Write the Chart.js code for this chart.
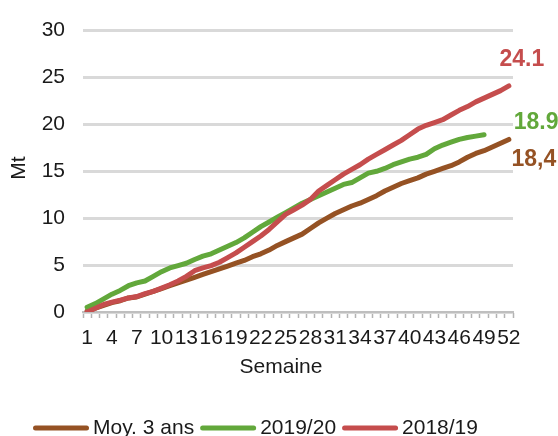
<!DOCTYPE html>
<html>
<head>
<meta charset="utf-8">
<script src="https://cdn.jsdelivr.net/npm/chart.js@4.4.1/dist/chart.umd.min.js"></script>
<style>
  html, body { margin: 0; padding: 0; background: #ffffff; }
  #wrap { width: 558px; height: 436px; }
</style>
</head>
<body>
<div id="wrap"><canvas id="c" width="558" height="436"></canvas></div>
<script>
// Weekly cumulative volumes (Mt)
const semaines = ['1','2','3','4','5','6','7','8','9','10','11','12','13','14','15','16','17','18','19','20',
  '21','22','23','24','25','26','27','28','29','30','31','32','33','34','35','36','37','38','39','40',
  '41','42','43','44','45','46','47','48','49','50','51','52'];
const semainesAffichees = ['1','4','7','10','13','16','19','22','25','28','31','34','37','40','43','46','49','52'];

const moy3ans = [0.1, 0.4, 0.7, 1.0, 1.2, 1.5, 1.6, 1.9, 2.2, 2.5, 2.8, 3.1, 3.4, 3.7, 4.0, 4.3, 4.6, 4.9, 5.2, 5.5,
  5.9, 6.2, 6.6, 7.1, 7.5, 7.9, 8.3, 8.9, 9.5, 10.0, 10.5, 10.9, 11.3, 11.6, 12.0, 12.4, 12.9, 13.3, 13.7, 14.0,
  14.3, 14.7, 15.0, 15.3, 15.6, 16.0, 16.5, 16.9, 17.2, 17.6, 18.0, 18.4];
const campagne1920 = [0.5, 0.9, 1.4, 1.9, 2.3, 2.8, 3.1, 3.3, 3.8, 4.3, 4.7, 4.95, 5.2, 5.6, 5.95, 6.2, 6.6, 7.0, 7.4, 7.9,
  8.5, 9.1, 9.6, 10.1, 10.6, 11.1, 11.6, 12.0, 12.4, 12.8, 13.2, 13.6, 13.8, 14.3, 14.8, 15.0, 15.3, 15.7, 16.0, 16.3,
  16.5, 16.8, 17.4, 17.8, 18.1, 18.4, 18.6, 18.75, 18.9];
const campagne1819 = [0.0, 0.4, 0.8, 1.05, 1.25, 1.5, 1.65, 1.95, 2.2, 2.55, 2.9, 3.3, 3.8, 4.4, 4.7, 4.95, 5.3, 5.8, 6.3, 6.9,
  7.5, 8.1, 8.8, 9.6, 10.4, 10.9, 11.4, 12.0, 12.9, 13.5, 14.1, 14.7, 15.2, 15.7, 16.3, 16.8, 17.3, 17.8, 18.3, 18.9,
  19.5, 19.9, 20.2, 20.5, 21.0, 21.5, 21.9, 22.4, 22.8, 23.2, 23.6, 24.1];
const yTicks = [0, 5, 10, 15, 20, 25, 30];

const FONT = "'Liberation Sans', Arial, sans-serif";
const TEXT_SIZE = 21;
const BROWN = '#955224';
const GREEN = '#62a83b';
const RED = '#c54d4d';

// Where each end-of-line value label sits relative to the last point,
// and which decimal separator it uses.
const endLabelStyle = [
  { dx: 25, dy: 20, sep: ',' },
  { dx: 52, dy: -12, sep: '.' },
  { dx: 13, dy: -26, sep: '.' }
];

const endLabels = {
  id: 'endLabels',
  afterDatasetsDraw(chart) {
    const ctx = chart.ctx;
    chart.data.datasets.forEach((ds, i) => {
      const meta = chart.getDatasetMeta(i);
      const pt = meta.data[meta.data.length - 1];
      const v = ds.data[ds.data.length - 1];
      const st = endLabelStyle[i];
      ctx.save();
      ctx.font = 'bold 23px ' + FONT;
      ctx.fillStyle = ds.borderColor;
      ctx.textAlign = 'center';
      ctx.textBaseline = 'middle';
      ctx.fillText(v.toFixed(1).replace('.', st.sep), pt.x + st.dx, pt.y + st.dy);
      ctx.restore();
    });
  }
};

// Axis titles and bottom legend
const extras = {
  id: 'extras',
  afterDraw(chart) {
    const ctx = chart.ctx;
    ctx.save();
    ctx.font = TEXT_SIZE + 'px ' + FONT;
    ctx.fillStyle = '#1a1a1a';
    ctx.textBaseline = 'middle';
    ctx.textAlign = 'center';
    ctx.fillText('Semaine', 281, 367);

    ctx.save();
    ctx.translate(19, 168);
    ctx.rotate(-Math.PI / 2);
    ctx.fillText('Mt', 0, 0);
    ctx.restore();

    let x = 33;
    const y = 428;
    ctx.textAlign = 'left';
    chart.data.datasets.forEach(ds => {
      ctx.beginPath();
      ctx.strokeStyle = ds.borderColor;
      ctx.lineWidth = 5;
      ctx.lineCap = 'round';
      ctx.moveTo(x + 2.5, y);
      ctx.lineTo(x + 53.5, y);
      ctx.stroke();
      x += 60;
      ctx.fillStyle = '#1a1a1a';
      ctx.fillText(ds.label, x, y);
      x += ctx.measureText(ds.label).width + 6;
    });
    ctx.restore();
  }
};

const lineStyle = {
  borderWidth: 5,
  pointRadius: 0,
  pointHoverRadius: 0,
  tension: 0,
  fill: false,
  borderJoinStyle: 'round',
  borderCapStyle: 'round'
};

new Chart(document.getElementById('c'), {
  type: 'line',
  data: {
    labels: semaines,
    datasets: [
      Object.assign({ label: 'Moy. 3 ans', data: moy3ans, borderColor: BROWN, backgroundColor: BROWN, order: 2 }, lineStyle),
      Object.assign({ label: '2019/20', data: campagne1920, borderColor: GREEN, backgroundColor: GREEN, order: 1 }, lineStyle),
      Object.assign({ label: '2018/19', data: campagne1819, borderColor: RED, backgroundColor: RED, order: 0 }, lineStyle)
    ]
  },
  options: {
    responsive: false,
    animation: false,
    devicePixelRatio: 1,
    layout: { padding: { top: 24, right: 45, left: 0, bottom: 0 } },
    plugins: {
      legend: { display: false },
      tooltip: { enabled: false }
    },
    scales: {
      x: {
        type: 'category',
        offset: true,
        grid: {
          offset: true,
          drawOnChartArea: false,
          drawTicks: true,
          tickLength: 6,
          tickColor: '#b3b3b3',
          tickWidth: 1.5
        },
        border: { display: true, color: '#bfbfbf', width: 2 },
        ticks: {
          autoSkip: false,
          maxRotation: 0,
          minRotation: 0,
          padding: 8,
          color: '#1a1a1a',
          font: { family: FONT, size: TEXT_SIZE },
          callback: function (val, idx) {
            const lab = semaines[idx];
            return semainesAffichees.includes(lab) ? lab : '';
          }
        },
        afterFit(scale) { scale.height = 124; }
      },
      y: {
        min: 0,
        max: 30,
        grid: { color: '#d9d9d9', lineWidth: 3, drawTicks: false },
        border: { display: false },
        ticks: {
          padding: 18,
          color: '#1a1a1a',
          font: { family: FONT, size: TEXT_SIZE }
        },
        afterBuildTicks(scale) { scale.ticks = yTicks.map(v => ({ value: v })); },
        afterFit(scale) { scale.width = 83; }
      }
    }
  },
  plugins: [endLabels, extras]
});
</script>
</body>
</html>
